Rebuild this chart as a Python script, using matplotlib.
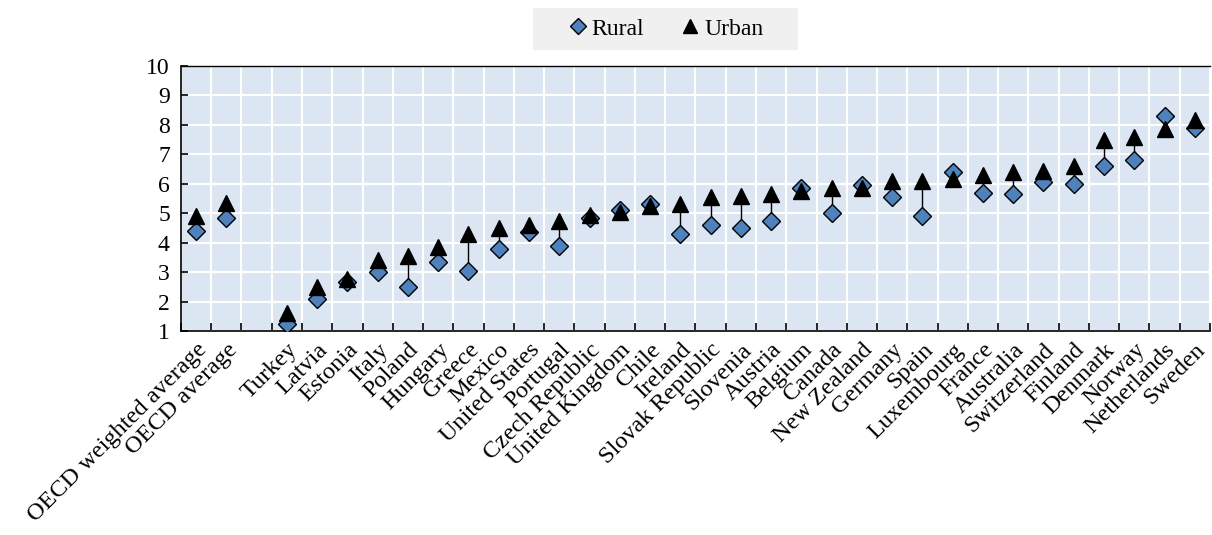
import matplotlib
matplotlib.use("Agg")
import matplotlib.pyplot as plt
from matplotlib.patches import Rectangle
import numpy as np

countries = ["OECD weighted average", "OECD average", "",
             "Turkey", "Latvia", "Estonia", "Italy", "Poland", "Hungary", "Greece",
             "Mexico", "United States", "Portugal", "Czech Republic", "United Kingdom",
             "Chile", "Ireland", "Slovak Republic", "Slovenia", "Austria", "Belgium",
             "Canada", "New Zealand", "Germany", "Spain", "Luxembourg", "France",
             "Australia", "Switzerland", "Finland", "Denmark", "Norway", "Netherlands",
             "Sweden"]
rural = [4.40, 4.85, np.nan,
         1.25, 2.10, 2.65, 3.00, 2.50, 3.35, 3.05,
         3.80, 4.35, 3.90, 4.85, 5.10,
         5.30, 4.30, 4.60, 4.50, 4.75, 5.85,
         5.00, 5.95, 5.55, 4.90, 6.40, 5.70,
         5.65, 6.05, 6.00, 6.60, 6.80, 8.30,
         7.90]
urban = [4.90, 5.35, np.nan,
         1.60, 2.50, 2.75, 3.40, 3.55, 3.85, 4.30,
         4.50, 4.60, 4.75, 4.95, 5.05,
         5.25, 5.30, 5.55, 5.60, 5.65, 5.75,
         5.85, 5.85, 6.10, 6.10, 6.15, 6.30,
         6.40, 6.45, 6.60, 7.50, 7.60, 7.85,
         8.15]

plt.rcParams['font.family'] = ['Liberation Serif', 'DejaVu Serif']

fig = plt.figure(figsize=(12.12, 5.35), dpi=100)
ax = fig.add_axes([0.1493, 0.3813, 0.849, 0.4953])
ax.set_facecolor("#DCE6F2")

x = np.arange(len(countries))
n = len(countries)

ax.vlines(x, rural, urban, color="black", lw=1, zorder=2)
ax.plot(x, rural, linestyle="none", marker="D", ms=9.5, mfc="#4F81BD",
        mec="black", mew=1, label="Rural", zorder=3)
ax.plot(x, urban, linestyle="none", marker="^", ms=12, mfc="black",
        mec="black", mew=1, label="Urban", zorder=4)

ax.set_xlim(-0.5, n - 0.5)
ax.set_ylim(1, 10)
ax.set_yticks(range(1, 11))
ax.set_xticks(x)
ax.set_xticklabels(countries, rotation=45, ha="right", va="top",
                   rotation_mode="anchor", fontsize=17.5)
ax.tick_params(axis="x", length=0, pad=6)
ax.set_xticks(np.arange(-0.5, n, 1.0), minor=True)
ax.tick_params(axis="x", which="minor", direction="in", length=6, width=1.2)
ax.tick_params(axis="y", direction="in", length=5, width=1.2, labelsize=17, pad=8)

ax.grid(True, which="minor", axis="x", color="white", lw=1.5, zorder=1)
ax.grid(True, which="major", axis="y", color="white", lw=1.5, zorder=1)
ax.set_axisbelow(True)

for s in ["left", "bottom"]:
    ax.spines[s].set_linewidth(1.2)
ax.spines["top"].set_linewidth(1.0)
ax.spines["right"].set_visible(False)

# legend box drawn separately (wider than matplotlib's frame)
fig.patches.append(Rectangle((0.4398, 0.9065), 0.2187, 0.0785,
                             transform=fig.transFigure, facecolor="#F0F0F0",
                             edgecolor="none", zorder=0))
leg = fig.legend(loc="center", bbox_to_anchor=(0.549, 0.9458), ncol=2,
                 frameon=False, fontsize=17, handlelength=0.9, handletextpad=0.15,
                 columnspacing=1.5, borderpad=0, markerscale=0.85)

fig.savefig("out.png", dpi=100)
